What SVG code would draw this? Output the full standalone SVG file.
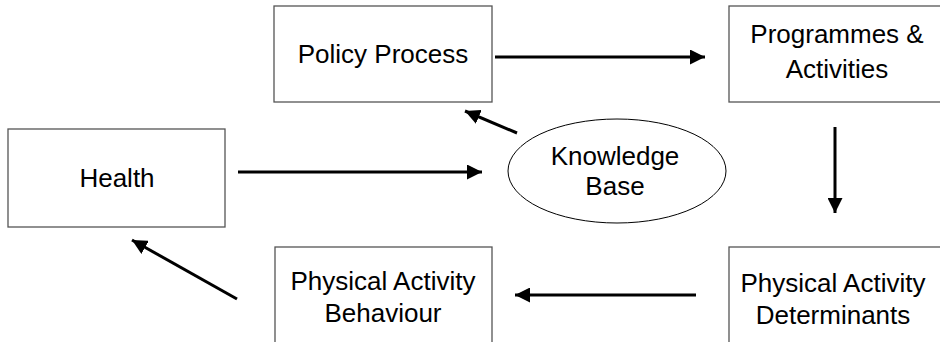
<svg xmlns="http://www.w3.org/2000/svg" width="940" height="342" viewBox="0 0 940 342">
<style>
.box{fill:#fff;stroke:#555;stroke-width:1.3}
.ell{fill:#fff;stroke:#000;stroke-width:1}
.t{font-family:"Liberation Sans",Arial,sans-serif;font-size:26px;fill:#000;text-anchor:middle}
.c{stroke:#000;stroke-width:3;fill:none;marker-end:url(#ah)}
</style>
<defs>
<marker id="ah" viewBox="0 0 10 10" refX="10" refY="5" markerWidth="5" markerHeight="5" markerUnits="strokeWidth" orient="auto">
<path d="M0,0 L10,5 L0,10 Z" fill="#000"/>
</marker>
</defs>
<rect width="940" height="342" fill="#fff"/>
<g id="policy"><rect class="box" x="274" y="6" width="218" height="96"/><text class="t" x="383" y="63">Policy Process</text></g>
<g id="programmes"><rect class="box" x="729" y="6" width="218" height="96"/><text class="t" x="837" y="43">Programmes &amp;</text><text class="t" x="837" y="78">Activities</text></g>
<g id="health"><rect class="box" x="8" y="129" width="217" height="98"/><text class="t" x="117" y="187">Health</text></g>
<g id="knowledge"><ellipse class="ell" cx="617" cy="171" rx="109" ry="52"/><text class="t" x="615" y="165">Knowledge</text><text class="t" x="615" y="195">Base</text></g>
<g id="behaviour"><rect class="box" x="275" y="247" width="217" height="110"/><text class="t" x="383" y="290">Physical Activity</text><text class="t" x="383" y="322">Behaviour</text></g>
<g id="determinants"><rect class="box" x="729" y="247" width="218" height="110"/><text class="t" x="833" y="292">Physical Activity</text><text class="t" x="833" y="324">Determinants</text></g>
<g id="connectors">
<line class="c" x1="495" y1="57" x2="705" y2="57"/>
<line class="c" x1="835" y1="127" x2="835" y2="213"/>
<line class="c" x1="238" y1="172" x2="482" y2="172"/>
<line class="c" x1="517" y1="133" x2="465" y2="111"/>
<line class="c" x1="696" y1="295" x2="515" y2="295"/>
<line class="c" x1="237" y1="299" x2="132" y2="240"/>
</g>
</svg>
